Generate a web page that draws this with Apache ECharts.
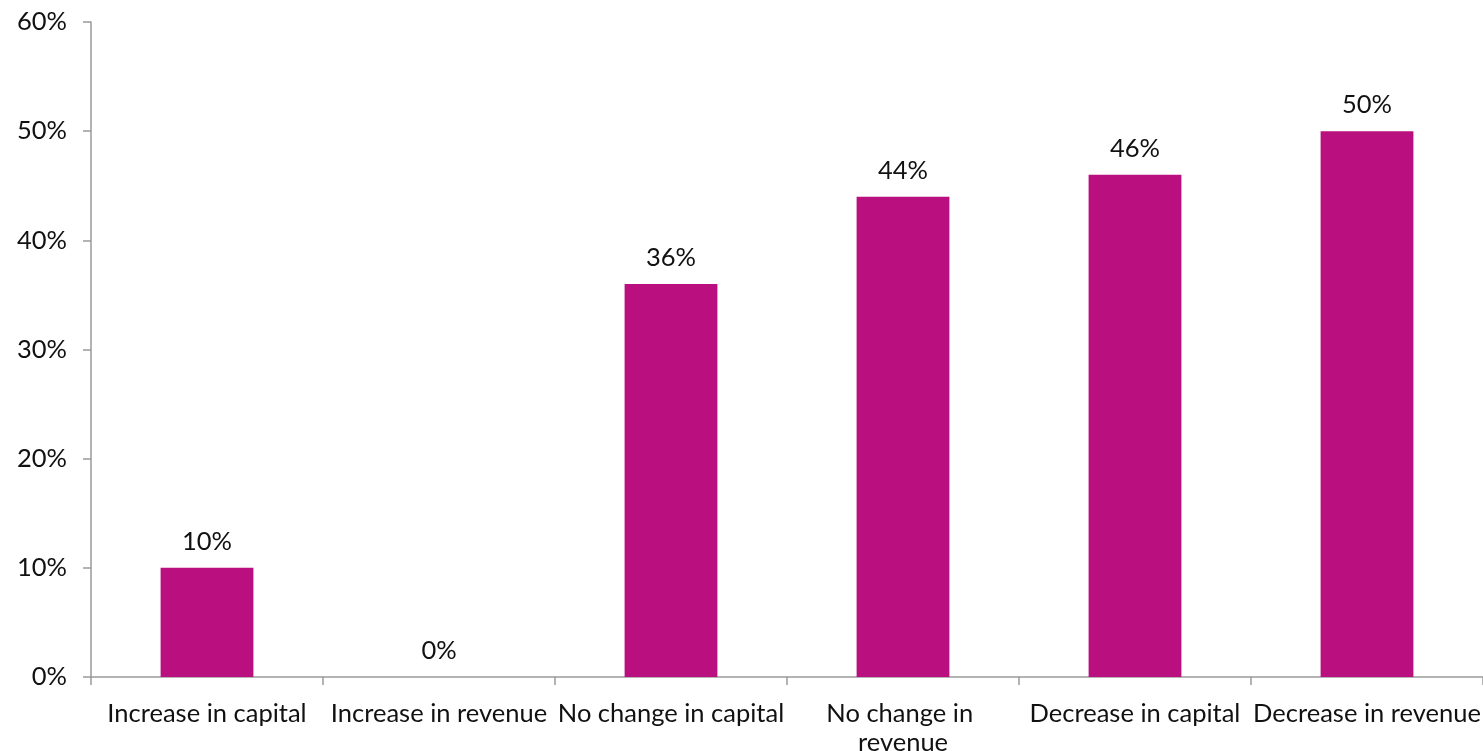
<!DOCTYPE html>
<html><head><meta charset="utf-8">
<script src="https://cdn.jsdelivr.net/npm/echarts@6/dist/echarts.min.js"></script>
<style>html,body{margin:0;padding:0;background:#fff}#c{width:1483px;height:751px}</style>
</head><body><div id="c"></div>
<script>
const categories = ["Increase in capital","Increase in revenue","No change in capital","No change in revenue","Decrease in capital","Decrease in revenue"];
const values = [10, 0, 36, 44, 46, 50];
const yTicks = [0, 10, 20, 30, 40, 50, 60];

const font = "Lato";
const fs = 25.5;
const chart = echarts.init(document.getElementById('c'));
chart.setOption({
  animation: false,
  grid: {left: 91, right: 0, top: 22, bottom: 74, containLabel: false, outerBoundsMode: 'none'},
  xAxis: {
    type: 'category', data: categories,
    axisLine: {lineStyle: {color: '#9a9a9a', width: 1.5}},
    axisTick: {show: true, length: 8, lineStyle: {color: '#9a9a9a', width: 1.5}},
    axisLabel: {color: '#111', fontFamily: font, fontSize: fs, margin: 22, interval: 0, width: 230, overflow: 'break', lineHeight: 29}
  },
  yAxis: {
    type: 'value', min: yTicks[0], max: yTicks[yTicks.length-1], interval: 10,
    axisLine: {show: true, lineStyle: {color: '#9a9a9a', width: 1.5}},
    axisTick: {show: true, length: 8, lineStyle: {color: '#9a9a9a', width: 1.5}},
    splitLine: {show: false},
    axisLabel: {color: '#111', fontFamily: font, fontSize: fs, margin: 24, formatter: v => v + '%'}
  },
  series: [{
    type: 'bar', data: values, barWidth: '40%',
    itemStyle: {color: '#BA0F7E'},
    label: {show: true, position: 'top', distance: 13, color: '#111', fontFamily: font, fontSize: fs, formatter: p => p.value + '%'}
  }]
});
</script></body></html>
